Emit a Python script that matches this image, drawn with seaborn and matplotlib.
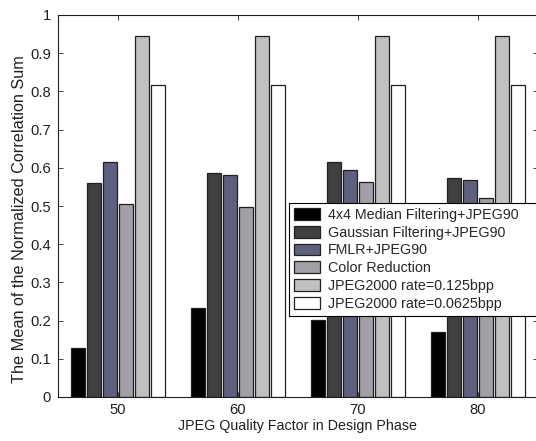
import numpy as np
import pandas as pd
import matplotlib
matplotlib.use("Agg")
import matplotlib.pyplot as plt
import seaborn as sns
from matplotlib.ticker import FormatStrFormatter

quality = ["50", "60", "70", "80"]
methods = [
    "4x4 Median Filtering+JPEG90",
    "Gaussian Filtering+JPEG90",
    "FMLR+JPEG90",
    "Color Reduction",
    "JPEG2000 rate=0.125bpp",
    "JPEG2000 rate=0.0625bpp",
]
median_jpeg = [0.129, 0.234, 0.202, 0.169]
gaussian_jpeg = [0.560, 0.586, 0.615, 0.574]
fmlr_jpeg = [0.615, 0.580, 0.594, 0.568]
color_reduction = [0.504, 0.498, 0.563, 0.522]
jpeg2000_125 = [0.945, 0.945, 0.945, 0.945]
jpeg2000_0625 = [0.816, 0.816, 0.816, 0.816]

series = [median_jpeg, gaussian_jpeg, fmlr_jpeg, color_reduction,
          jpeg2000_125, jpeg2000_0625]
df = pd.DataFrame({
    "quality": np.repeat([quality], len(methods), axis=0).ravel(),
    "method": np.repeat(methods, len(quality)),
    "value": np.concatenate(series),
})

colors = ["#000000", "#404040", "#5f5f80", "#a0a0a6", "#c0c0c0", "#ffffff"]
fs = 10.3

sns.set_style("white")
plt.rcParams["font.family"] = ["Liberation Sans", "DejaVu Sans"]

W, H = 536, 441
fig = plt.figure(figsize=(W / 100, H / 100), dpi=100)
ax = fig.add_axes([58 / W, 44 / H, 480 / W, 382 / H])

sns.barplot(data=df, x="quality", y="value", hue="method",
            order=quality, hue_order=methods, palette=colors,
            width=0.8, gap=0.18, edgecolor="#202020", linewidth=0.9,
            saturation=1, errorbar=None, ax=ax, legend=True)

ax.set_xlim(-0.5, 3.5)
ax.set_ylim(0, 1)
ax.set_yticks(np.arange(0, 1.01, 0.1))
ax.yaxis.set_major_formatter(FormatStrFormatter("%g"))
ax.tick_params(direction="in", length=3.5, width=0.6, colors="#202020",
               labelsize=10.6, labelcolor="#202020", top=True, right=True,
               bottom=True, left=True)
ax.tick_params(axis="x", pad=4)
ax.tick_params(axis="y", pad=5)
for s in ax.spines.values():
    s.set_color("#202020")
    s.set_linewidth(0.8)

ax.set_xlabel("JPEG Quality Factor in Design Phase", fontsize=fs,
              color="#202020", labelpad=2)
ax.set_ylabel("The Mean of the Normalized Correlation Sum", fontsize=11.7,
              color="#202020")
ax.yaxis.set_label_coords((27 - 58) / 480, (397 - 219) / 382)

handles, labels = ax.get_legend_handles_labels()
leg_x0, leg_y1, leg_x1 = 289, 203, 541
ax.legend(handles, labels, loc="upper left", mode="expand",
          bbox_to_anchor=(leg_x0 / W, 1 - leg_y1 / H, (leg_x1 - leg_x0) / W, 0),
          bbox_transform=fig.transFigure, borderaxespad=0,
          fontsize=fs, frameon=True, fancybox=False, framealpha=1,
          edgecolor="#000000", handlelength=1.8, handleheight=0.9,
          handletextpad=0.6, labelspacing=0.26, borderpad=0.35,
          title=None)
ax.get_legend().get_frame().set_linewidth(0.8)

fig.savefig("out.png", dpi=100)
